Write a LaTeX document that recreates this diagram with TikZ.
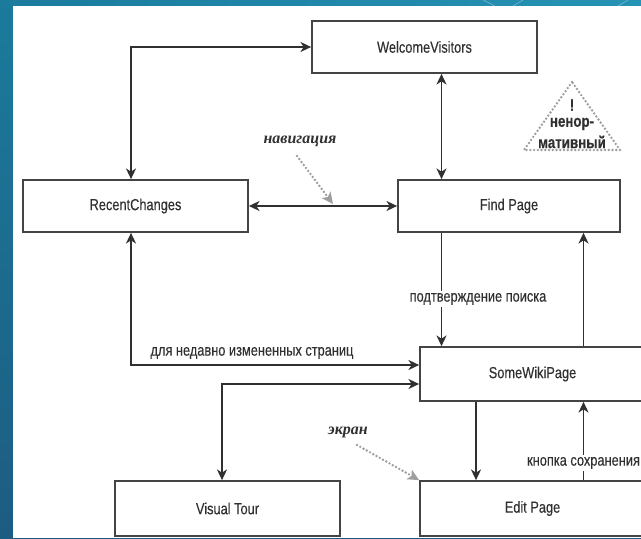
\documentclass[tikz,border=0pt]{standalone}
\usepackage{fontspec}
\setmainfont{Liberation Sans}[FakeStretch=0.8, FakeBold=0.25]
\newfontfamily\handfont{Liberation Serif}
\usetikzlibrary{arrows.meta}
\definecolor{ink}{HTML}{303030}
\definecolor{boxline}{HTML}{444444}
\definecolor{hint}{HTML}{9E9E9E}
\definecolor{bgtop}{HTML}{1B7B9C}
\definecolor{bgbot}{HTML}{1D5C82}
\definecolor{bgright}{HTML}{2593B5}
\begin{document}
\begin{tikzpicture}[x=0.75pt,y=-0.75pt,
  font=\fontsize{12}{14}\selectfont,
  >={Stealth[length=8pt,width=7.5pt,inset=2.4pt]},
  wikibox/.style={draw=boxline, line width=1.3pt, fill=white, text=ink,
    minimum width=168.75pt, minimum height=39pt, inner sep=0pt},
  link/.style={draw=ink, line width=1.3pt},
  edgetext/.style={fill=white, text=ink, inner sep=1.5pt},
  handnote/.style={text=ink, font=\handfont\bfseries\itshape\fontsize{12}{14}\selectfont},
  hintarrow/.style={draw=hint, line width=2pt, line cap=round,
    dash pattern=on 0pt off 2.8pt,
    -{Stealth[length=8.5pt,width=8pt,inset=2pt,fill=hint,line cap=butt,sep=0pt]}},
  warnmark/.style={text=ink, font=\bfseries\fontsize{12.5}{13}\selectfont, inner sep=0pt}]

\useasboundingbox (0,0) rectangle (641,538);
\clip (0,0) rectangle (641,538);

% slide background and page area
\shade[top color=bgtop, bottom color=bgbot] (0,0) rectangle (641,538);
\shade[left color=bgtop, right color=bgright] (0,0) rectangle (641,6);
\draw[white, opacity=0.35, line width=0.5pt] (483,0) -- (495,6) (513,6) -- (523,0) (618,6) -- (628,0);
\fill[white] (13,6) rectangle (641,538);

% pages
\node[wikibox] (WV) at (424.5,47) {WelcomeVisitors};
\node[wikibox] (RC) at (135.5,206) {RecentChanges};
\node[wikibox, minimum width=166.5pt] (FP) at (509,206) {Find Page};
\node[wikibox, minimum height=40.5pt] (SWP) at (532.5,374) {SomeWikiPage};
\node[wikibox, minimum height=41.25pt] (VT) at (227.5,508.5) {Visual Tour};
\node[wikibox, minimum height=41.25pt] (EP) at (532.5,508.5) {Edit Page};

% routing columns and rows
\coordinate (colA) at (131,0);
\coordinate (colB) at (441.5,0);
\coordinate (colC) at (583.5,0);
\coordinate (colD) at (222,0);
\coordinate (colE) at (476,0);
\coordinate (rowA) at (0,365);
\coordinate (rowB) at (0,384);

% links between pages
\draw[link,<->] (RC.north -| colA) |- (WV.west);
\draw[link,<->] (WV.south -| colB) -- (FP.north -| colB);
\draw[link,<->] (RC.east) -- (FP.west);
\draw[link,->] (FP.south -| colB) -- (SWP.north -| colB);
\draw[link,->] (SWP.north -| colC) -- (FP.south -| colC);
\draw[link,<->] (RC.south -| colA) |- (SWP.west |- rowA);
\draw[link,<->] (VT.north -| colD) |- (SWP.west |- rowB);
\draw[link,->] (SWP.south -| colE) -- (EP.north -| colE);
\draw[link,->] (EP.north -| colC) -- (SWP.south -| colC);

% link labels
\node[edgetext] (lsearch) at (478,299) {подтверждение поиска};
\node[text=ink, inner sep=0pt] (lrecent) at (252,353) {для недавно измененных страниц};
\node[edgetext] (lsave) at (583.5,463) {кнопка сохранения};

% annotations
\node[handnote] (nav) at (300,141) {навигация};
\coordinate (navtip) at (333,204);
\draw[hintarrow] (297,156) -- (navtip);
\node[handnote] (scr) at (348,432) {экран};
\draw[hintarrow] (357,445) -- (EP.north west);

% non-normative warning sign
\coordinate (tA) at (572,82);
\coordinate (tB) at (524,150);
\coordinate (tC) at (620,150);
\draw[hint, line width=2pt, line cap=round, dash pattern=on 0pt off 2.8pt]
  (tA) -- (tB) -- (tC) -- cycle;
\node[warnmark] (w1) at (572,105) {!};
\node[warnmark] (w2) at (572,124) {ненор-};
\node[warnmark] (w3) at (572,142) {мативный};
\end{tikzpicture}
\end{document}
